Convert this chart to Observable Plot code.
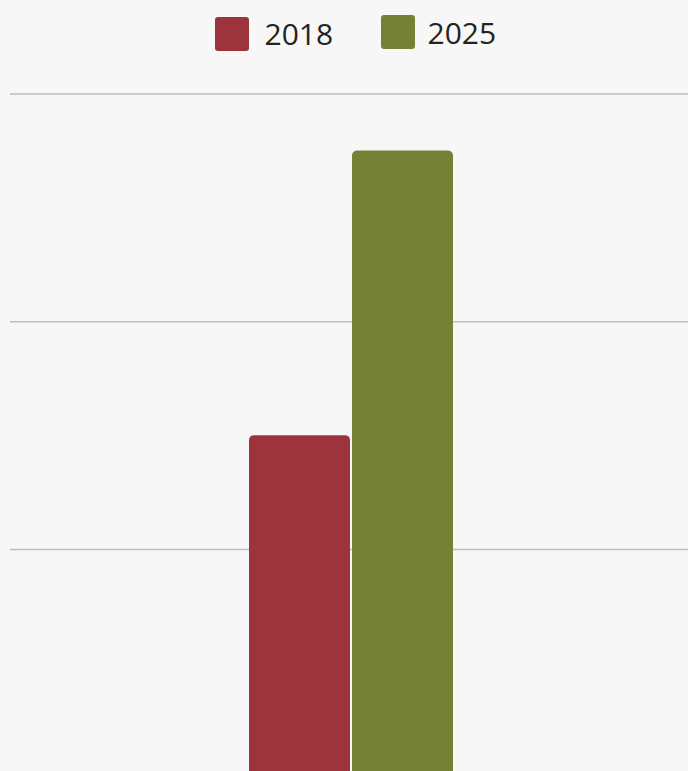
<!DOCTYPE html>
<html>
<head>
<meta charset="utf-8">
<script src="https://cdn.jsdelivr.net/npm/d3@7"></script>
<script src="https://cdn.jsdelivr.net/npm/@observablehq/plot@0.6"></script>
<style>
  html, body { margin: 0; padding: 0; background: #f7f7f7; overflow: hidden; width: 688px; height: 771px; }
  #legend { position: relative; height: 70px; width: 688px; font-family: "Open Sans", sans-serif; }
  .sw { position: absolute; width: 34px; height: 34px; border-radius: 3px; }
  .lb { position: absolute; font-size: 30px; line-height: 1; color: #232323; white-space: nowrap; }
  #chart svg { display: block; overflow: hidden; }
</style>
</head>
<body>
<div id="legend"></div>
<div id="chart"></div>
<script>
const categories = ["2018", "2025"];
const values = [15, 27.5];
const colors = ["#9d333c", "#758236"];
const gridTicks = [10, 20, 30];

const data = categories.map((c, i) => ({year: c, value: values[i]}));

// Legend (HTML above the plot)
const legend = document.getElementById("legend");
const legendPos = [
  {sx: 215, sy: 17, tx: 264.5, ty: 19},
  {sx: 381, sy: 15, tx: 427.5, ty: 17.5}
];
categories.forEach((c, i) => {
  const p = legendPos[i];
  const sw = document.createElement("div");
  sw.className = "sw";
  sw.style.left = p.sx + "px";
  sw.style.top = p.sy + "px";
  sw.style.background = colors[i];
  legend.appendChild(sw);
  const lb = document.createElement("div");
  lb.className = "lb";
  lb.style.left = p.tx + "px";
  lb.style.top = p.ty + "px";
  lb.textContent = c;
  legend.appendChild(lb);
});

const chart = Plot.plot({
  width: 688,
  height: 701,
  marginLeft: 10,
  marginRight: 0,
  marginTop: 0,
  marginBottom: 0,
  style: {background: "#f7f7f7", overflow: "hidden"},
  x: {domain: categories, range: [249, 453.5], paddingInner: 0.02, paddingOuter: 0, axis: null},
  y: {domain: [0, 30], range: [706.75, 23.5], axis: null},
  color: {domain: categories, range: colors},
  marks: [
    Plot.ruleY(gridTicks, {stroke: "#bdbdbd", strokeWidth: 1.5}),
    Plot.barY(data, {x: "year", y: "value", fill: "year", rx: 5})
  ]
});
document.getElementById("chart").appendChild(chart);
</script>
</body>
</html>
